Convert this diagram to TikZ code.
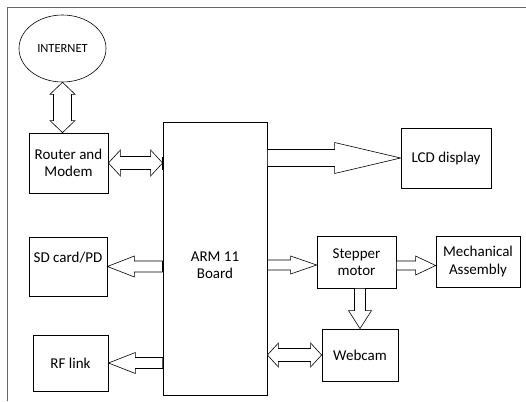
\documentclass[tikz,border=0pt]{standalone}
\usepackage{fontspec}
\setmainfont{Carlito}
\usepackage{tikz}
\usetikzlibrary{calc,shapes.geometric}

\tikzset{
	block/.style={draw, line width=0.8pt, align=center, inner sep=0pt, font=\fontsize{15}{17.5}\selectfont},
	barrow/.style={draw, line width=0.6pt, fill=white},
	tailmark/.style={line width=1.8pt},
	frame/.style={draw=black!60, line width=0.8pt}
}

% block arrow: from, to, half shaft, half head, head length
\newcommand{\blockarrow}[5]{%
	\draw[barrow] ($(#1)!#3!90:(#2)$) -- ($(#2)!#5!(#1)!#3!90:(#2)$) -- ($(#2)!#5!(#1)!#4!90:(#2)$) -- (#2)
		-- ($(#2)!#5!(#1)!#4!-90:(#2)$) -- ($(#2)!#5!(#1)!#3!-90:(#2)$) -- ($(#1)!#3!-90:(#2)$) -- cycle;}
% same with a head at both ends
\newcommand{\dblockarrow}[5]{%
	\draw[barrow] (#1) -- ($(#1)!#5!(#2)!#4!90:(#2)$) -- ($(#1)!#5!(#2)!#3!90:(#2)$) -- ($(#2)!#5!(#1)!#3!90:(#2)$) -- ($(#2)!#5!(#1)!#4!90:(#2)$) -- (#2)
		-- ($(#2)!#5!(#1)!#4!-90:(#2)$) -- ($(#2)!#5!(#1)!#3!-90:(#2)$) -- ($(#1)!#5!(#2)!#3!-90:(#2)$) -- ($(#1)!#5!(#2)!#4!-90:(#2)$) -- cycle;}

\begin{document}
\begin{tikzpicture}[x=1pt,y=-1pt]
		\useasboundingbox (0,0) rectangle (526,401);
		%frame
		\draw[frame] (7,401) -- (7,7) -- (526,7);
		
		%blocks
		\node[draw, ellipse, line width=0.6pt, minimum width=87pt, minimum height=67pt, inner sep=0pt, font=\fontsize{12.5}{14}\selectfont] (internet) at (62.5,48.5) {INTERNET};
		\node[block, minimum width=79pt, minimum height=60pt] (router) at (68.5,163) {Router and\\Modem};
		\node[block, minimum width=104pt, minimum height=273pt, text height=44pt, text depth=4pt] (arm) at (215,258.5) {ARM 11\\Board};
		\node[block, minimum width=90pt, minimum height=60pt] (lcd) at (446,158) {LCD display};
		\node[block, minimum width=78pt, minimum height=59pt, text height=10pt, text depth=18pt] (sd) at (68,266.5) {SD card/PD};
		\node[block, minimum width=75pt, minimum height=56pt] (rf) at (70.5,363) {RF link};
		\node[block, minimum width=79pt, minimum height=52pt] (stepper) at (356.5,262) {Stepper\\motor};
		\node[block, minimum width=84pt, minimum height=51pt] (mech) at (478,261.5) {Mechanical\\Assembly};
		\node[block, minimum width=76pt, minimum height=52pt] (webcam) at (360,355) {Webcam};
		
		%arrows
		\coordinate (netdown) at (internet.south |- router.north);
		\dblockarrow{internet.south}{netdown}{9pt}{12.5pt}{12pt}
		\coordinate (armrouter) at (arm.west |- router.east);
		\dblockarrow{router.east}{armrouter}{6.5pt}{13pt}{12pt}
		\coordinate (armlcd) at (arm.east |- lcd.west);
		\blockarrow{armlcd}{lcd.west}{8.5pt}{15.5pt}{66pt}
		\coordinate (armsd) at (arm.west |- sd.east);
		\blockarrow{armsd}{sd.east}{5.5pt}{10.5pt}{27pt}
		\coordinate (armrf) at (arm.west |- rf.east);
		\blockarrow{armrf}{rf.east}{5.5pt}{10.5pt}{27pt}
		\coordinate (stepin) at ([yshift=-3pt]stepper.west);
		\coordinate (armstep) at (arm.east |- stepin);
		\blockarrow{armstep}{stepin}{5pt}{9pt}{26pt}
		\coordinate (stepout) at ([yshift=-3.5pt]stepper.east);
		\coordinate (mechin) at (mech.west |- stepout);
		\blockarrow{stepout}{mechin}{4.5pt}{9.5pt}{20pt}
		\coordinate (stepdown) at (webcam.north |- stepper.south);
		\blockarrow{stepdown}{webcam.north}{5.5pt}{11.5pt}{18pt}
		\coordinate (armcam) at (arm.east |- webcam.west);
		\dblockarrow{armcam}{webcam.west}{6.5pt}{12pt}{11pt}
		
		%thick ends on the board
		\draw[tailmark] ([yshift=6.5pt]armrouter) -- ([yshift=-6.5pt]armrouter);
		\draw[tailmark] ([yshift=5.5pt]armsd) -- ([yshift=-5.5pt]armsd);
		\draw[tailmark] ([yshift=5.5pt]armstep) -- ([yshift=-5.5pt]armstep);
\end{tikzpicture}
\end{document}
